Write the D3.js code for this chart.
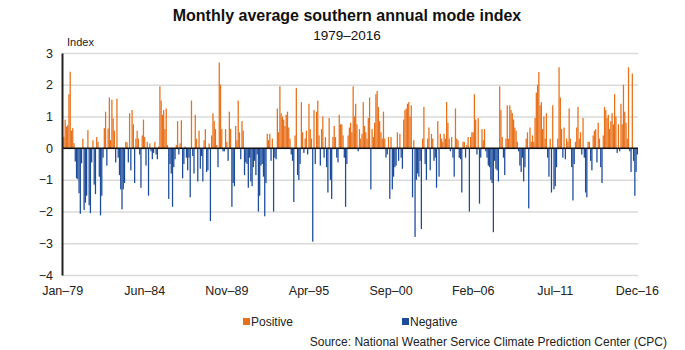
<!DOCTYPE html>
<html>
<head>
<meta charset="utf-8">
<script src="https://cdn.jsdelivr.net/npm/d3@7"></script>
<style>
  body { margin: 0; background: #fff; }
  svg { font-family: "Liberation Sans", Arial, sans-serif; }
</style>
</head>
<body>
<svg id="chart" width="685" height="350"></svg>
<script>
// monthly SAM index values, Jan 1979 - Dec 2016, one row per year
const startYear = 1979;
const monthNames = ["Jan", "Feb", "Mar", "Apr", "May", "Jun", "Jul", "Aug", "Sep", "Oct", "Nov", "Dec"];

const samIndex = [
  0.21, 0.36, 0.90, 0.68, 0.72, 1.70, 2.41, 0.55, 0.63, 0.16, -0.42, -0.95,   // 1979
  -0.98, -1.42, -2.07, -0.48, 0.30, -1.95, -1.72, -1.50, 0.57, -1.80, -2.05, -0.45, // 1980
  0.25, -1.15, -1.45, 0.35, 0.20, -0.90, -2.12, -1.50, -0.30, 0.63, 1.15, -0.55, // 1981
  0.62, 1.60, 0.25, 1.53, 0.94, 0.55, -0.45, 1.56, -0.30, -0.85, -1.30, -1.93, // 1982
  -1.30, -1.10, 0.20, 0.18, -0.45, 1.10, -0.70, 1.20, 0.75, -1.10, 0.30, 0.55, // 1983
  0.30, -0.20, -1.25, 0.40, 0.90, 0.35, -0.55, 0.20, -1.50, 0.15, -0.10, -0.35, // 1984
  -0.15, 0.20, -0.20, -0.35, 0.05, 1.95, 1.50, 1.05, 1.20, 0.60, 1.25, 0.10,   // 1985
  -1.60, -0.50, -0.80, -1.85, -0.60, -0.35, 0.10, 0.85, -0.20, 0.15, 0.88, -0.95, // 1986
  -0.50, 0.05, -0.30, -0.70, -0.30, -1.55, 1.50, -0.25, -0.80, 1.05, 0.30, -1.05, // 1987
  0.55, -0.65, -0.25, -1.05, 0.25, 0.60, -0.75, -0.70, 0.15, -2.30, 0.40, 1.10, // 1988
  0.85, 0.60, 0.10, -0.60, 2.70, 2.00, 0.60, -0.10, -0.10, 0.60, 0.20, -0.40,  // 1989
  1.15, 0.60, -1.85, -1.10, -1.20, 0.70, 0.25, 1.50, 0.50, -0.35, 0.85, 0.55,  // 1990
  -0.85, -0.45, -0.50, -1.25, -0.30, -1.05, -1.20, -0.60, -0.40, -0.85, -0.20, -2.00, // 1991
  -1.50, -0.55, -0.50, -0.90, -2.15, -1.10, 0.45, 0.25, 0.45, -0.40, 0.30, -2.00, // 1992
  -0.30, -0.35, 1.25, 0.50, 1.95, 1.10, 1.00, 0.90, 0.70, 1.05, 1.15, 0.65,    // 1993
  0.30, -0.20, -0.40, -1.70, 0.40, 1.90, -0.85, -1.00, -0.50, 1.45, 0.50, -0.15, // 1994
  0.30, 0.55, -0.20, 1.40, 0.60, 0.30, -2.95, 1.20, -0.50, 1.15, 1.50, 0.40,   // 1995
  -0.55, 0.60, 1.00, -0.30, 0.35, -0.60, -1.40, 0.95, -1.00, -1.60, 0.35, 0.70, // 1996
  0.35, -0.30, -0.45, 1.05, 0.75, 0.75, 0.40, -0.30, -1.85, -0.50, 0.40, 0.65,  // 1997
  0.80, 0.50, 1.95, 1.00, 1.40, 0.75, -0.10, 0.60, 0.30, 0.45, 1.45, 0.70,     // 1998
  0.50, 0.30, 0.95, 1.60, -1.30, 0.60, 0.35, 0.80, 1.70, 1.80, 1.30, 0.85,     // 1999
  0.50, 0.30, 1.15, 0.30, -0.30, -0.20, 0.35, -1.60, 0.35, -1.30, -0.90, -0.60, // 2000
  -0.55, 0.50, -0.40, 0.45, -0.30, -0.65, 0.90, 1.20, 1.25, 1.40, 1.45, 1.00,  // 2001
  1.35, -1.55, 0.25, -2.80, -1.00, -0.80, -0.90, -0.40, -2.55, 0.30, 1.30, -0.50, // 2002
  -1.00, 0.30, 0.65, -0.70, 0.45, 0.30, -0.40, -0.30, -1.25, 0.85, -0.90, 0.45, // 2003
  0.30, 0.20, 0.45, 0.30, 1.45, 0.80, 0.30, -0.10, 0.35, -0.30, -0.90, 1.25,   // 2004
  0.30, 0.25, -0.30, -0.35, -1.40, 0.20, 0.20, -0.30, 0.10, 0.35, -2.00, 0.35,  // 2005
  0.50, 0.50, 1.70, 0.90, -0.20, 0.95, -1.75, -0.30, 0.60, 0.25, 0.60, -0.10,  // 2006
  -0.30, -0.55, -0.60, -1.00, -1.10, -2.65, -0.40, -0.65, -0.70, -1.05, 1.95, 1.20, // 2007
  0.35, -0.30, -0.85, 0.30, 1.35, 0.30, 1.35, 1.20, 1.10, 0.90, 0.65, 0.55,    // 2008
  0.20, -0.10, -0.55, -0.75, -0.30, -1.05, -0.60, 0.30, 0.50, -1.90, 0.65, 0.20, // 2009
  0.40, 0.20, 0.95, 1.75, 2.00, 2.40, 1.35, 1.45, 0.60, 1.00, 0.30, 1.10,      // 2010
  -0.30, -0.90, 0.30, -1.40, 1.35, -1.30, -1.20, -0.60, 0.30, 2.55, 1.60, 0.60, // 2011
  -0.30, 0.65, -0.35, 0.30, 0.20, 1.25, 0.30, -0.60, -1.65, -0.50, 0.20, 0.65,  // 2012
  1.30, 0.30, 0.50, -0.20, 0.95, -0.30, -1.40, -1.55, 0.20, 0.20, -0.40, -0.70, // 2013
  0.40, 0.55, 0.60, -0.45, 0.80, 0.30, -0.60, -1.10, 0.40, 1.30, 1.20, 0.95,   // 2014
  1.05, 0.60, 0.85, 1.10, 0.75, 1.70, 1.00, -0.15, 0.75, -0.10, 1.40, 0.75,    // 2015
  2.00, 1.15, 0.80, 0.30, 2.55, -0.10, -0.75, 2.35, -0.40, -1.50, -0.75, -0.20  // 2016
];

const tickLabels = ["Jan–79", "Jun–84", "Nov–89", "Apr–95", "Sep–00", "Feb–06", "Jul–11", "Dec–16"];
const yTicks = [3, 2, 1, 0, -1, -2, -3, -4];
const legendLabels = ["Positive", "Negative"];

const colPos = "#e8701a";
const colNeg = "#1c4b9a";

// month labels like "Jan–79"
const months = samIndex.map((v, i) =>
  monthNames[i % 12] + "–" + String(startYear + Math.floor(i / 12)).slice(2));

const svg = d3.select("#chart");

const plotLeft = 62, plotRight = 638, plotTop = 53, plotBottom = 275;

const x = d3.scaleBand()
  .domain(months)
  .range([plotLeft, plotRight])
  .padding(0);

const y = d3.scaleLinear()
  .domain([-4, 3])
  .range([plotBottom, plotTop]);

// titles
svg.append("text")
  .attr("x", 347).attr("y", 21)
  .attr("text-anchor", "middle")
  .style("font-size", "16px").style("font-weight", "bold")
  .style("fill", "#111")
  .text("Monthly average southern annual mode index");

svg.append("text")
  .attr("x", 347).attr("y", 40)
  .attr("text-anchor", "middle")
  .style("font-size", "13.5px").style("fill", "#111")
  .text("1979–2016");

svg.append("text")
  .attr("x", 67).attr("y", 46)
  .style("font-size", "11px").style("fill", "#222")
  .text("Index");

// grid lines
svg.append("g")
  .attr("class", "grid")
  .attr("transform", `translate(${plotLeft},0)`)
  .call(d3.axisLeft(y).tickValues(yTicks).tickSize(-(plotRight - plotLeft)).tickFormat(""))
  .call(g => g.select(".domain").remove())
  .call(g => g.selectAll("line").attr("stroke", "#dadada").attr("stroke-width", 1.5));

// bars
svg.append("g")
  .selectAll("rect")
  .data(samIndex)
  .join("rect")
  .attr("x", (d, i) => x(months[i]))
  .attr("width", x.bandwidth())
  .attr("y", d => y(Math.max(0, d)))
  .attr("height", d => Math.abs(y(d) - y(0)))
  .attr("fill", d => d >= 0 ? colPos : colNeg);

// zero line
svg.append("line")
  .attr("x1", plotLeft).attr("x2", plotRight)
  .attr("y1", y(0)).attr("y2", y(0))
  .attr("stroke", "#111").attr("stroke-width", 1.5);

// y axis
svg.append("g")
  .attr("transform", `translate(${plotLeft},0)`)
  .call(d3.axisLeft(y).tickValues(yTicks).tickSize(0).tickPadding(9).tickFormat(d3.format("d")))
  .call(g => g.select(".domain").attr("stroke", "#222").attr("stroke-width", 2))
  .call(g => g.selectAll("text").style("font-size", "12.5px").style("fill", "#222")
    .style("font-family", "'Liberation Sans', Arial, sans-serif"));

// x axis labels
svg.append("g")
  .attr("transform", `translate(0,${plotBottom})`)
  .call(d3.axisBottom(x).tickValues(tickLabels).tickSize(0).tickPadding(11))
  .call(g => g.select(".domain").remove())
  .call(g => g.selectAll("text").style("font-size", "12.5px").style("fill", "#222")
    .style("font-family", "'Liberation Sans', Arial, sans-serif"));

// legend
const legend = svg.append("g");
[[243, colPos], [402, colNeg]].forEach(([lx, c], i) => {
  legend.append("rect").attr("x", lx).attr("y", 318).attr("width", 7).attr("height", 7).attr("fill", c);
  legend.append("text").attr("x", lx + 8).attr("y", 326)
    .style("font-size", "12px").style("fill", "#222")
    .text(legendLabels[i]);
});

// source
svg.append("text")
  .attr("x", 667).attr("y", 346)
  .attr("text-anchor", "end")
  .style("font-size", "12px").style("fill", "#222")
  .text("Source: National Weather Service Climate Prediction Center (CPC)");
</script>
</body>
</html>
